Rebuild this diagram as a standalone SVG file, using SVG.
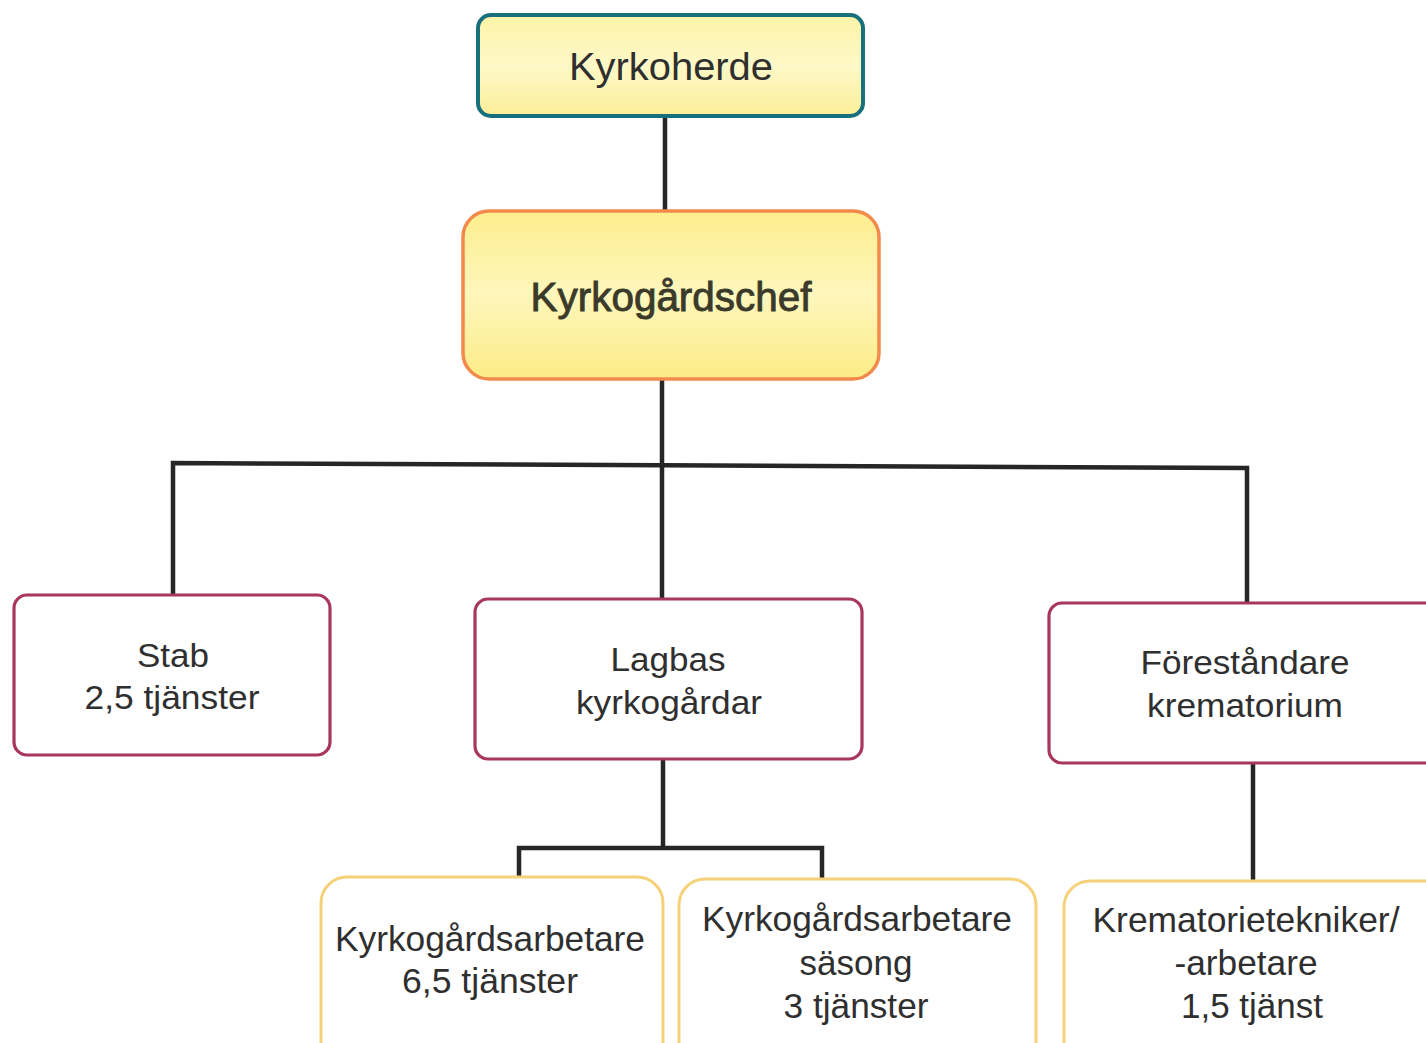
<svg xmlns="http://www.w3.org/2000/svg" width="1426" height="1043" viewBox="0 0 1426 1043">
<defs>
<linearGradient id="gy" x1="0" y1="0" x2="0" y2="1">
<stop offset="0" stop-color="#fdf3a6"/>
<stop offset="0.5" stop-color="#fef8c8"/>
<stop offset="1" stop-color="#fcef98"/>
</linearGradient>
<linearGradient id="gy2" x1="0" y1="0" x2="0" y2="1">
<stop offset="0" stop-color="#fdee8e"/>
<stop offset="0.5" stop-color="#fef6bc"/>
<stop offset="1" stop-color="#fcec86"/>
</linearGradient>
</defs>
<style>
text{font-family:"Liberation Sans",Arial,sans-serif;fill:#2f2f2f;text-anchor:middle}
.mid{stroke:#a8365e;stroke-width:3.2;fill:#fff}
.low{stroke:#f5d27a;stroke-width:3;fill:#fff}
.con{stroke:#262626;stroke-width:4.5;fill:none}
</style>
<g id="connectors">
<path class="con" d="M665 117V210"/>
<path class="con" d="M662 380V598"/>
<path class="con" d="M173 594V463L1247 468V602"/>
<path class="con" d="M663 760V848"/>
<path class="con" d="M519 876V848H822V878"/>
<path class="con" d="M1253 764V880"/>
</g>
<g id="kyrkoherde">
<rect x="478" y="15" width="385" height="101" rx="13" fill="url(#gy)" stroke="#17707c" stroke-width="4"/>
<text x="671" y="80" font-size="38" textLength="204" lengthAdjust="spacingAndGlyphs">Kyrkoherde</text>
</g>
<g id="kyrkogardschef">
<rect x="463" y="211" width="416" height="168" rx="26" fill="url(#gy2)" stroke="#f28a4c" stroke-width="3.5"/>
<text x="671" y="311" font-size="41" textLength="281" lengthAdjust="spacingAndGlyphs" style="fill:#3a3a2a;stroke:#3a3a2a;stroke-width:0.9">Kyrkogårdschef</text>
</g>
<g id="stab">
<rect class="mid" x="14" y="595" width="316" height="160" rx="13"/>
<text x="173" y="667" font-size="34" textLength="72" lengthAdjust="spacingAndGlyphs">Stab</text>
<text x="172" y="709" font-size="34" textLength="175" lengthAdjust="spacingAndGlyphs">2,5 tjänster</text>
</g>
<g id="lagbas">
<rect class="mid" x="475" y="599" width="387" height="160" rx="13"/>
<text x="668" y="671" font-size="34" textLength="115" lengthAdjust="spacingAndGlyphs">Lagbas</text>
<text x="669" y="714" font-size="34" textLength="186" lengthAdjust="spacingAndGlyphs">kyrkogårdar</text>
</g>
<g id="forestandare">
<rect class="mid" x="1049" y="603" width="400" height="160" rx="13"/>
<text x="1245" y="674" font-size="34" textLength="209" lengthAdjust="spacingAndGlyphs">Föreståndare</text>
<text x="1245" y="717" font-size="34" textLength="196" lengthAdjust="spacingAndGlyphs">krematorium</text>
</g>
<g id="arbetare">
<rect class="low" x="321" y="877" width="342" height="190" rx="26"/>
<text x="490" y="951" font-size="35" textLength="310" lengthAdjust="spacingAndGlyphs">Kyrkogårdsarbetare</text>
<text x="490" y="993" font-size="35" textLength="176" lengthAdjust="spacingAndGlyphs">6,5 tjänster</text>
</g>
<g id="sasong">
<rect class="low" x="679" y="879" width="357" height="190" rx="26"/>
<text x="857" y="931" font-size="35" textLength="310" lengthAdjust="spacingAndGlyphs">Kyrkogårdsarbetare</text>
<text x="856" y="975" font-size="35" textLength="113" lengthAdjust="spacingAndGlyphs">säsong</text>
<text x="856" y="1018" font-size="35" textLength="145" lengthAdjust="spacingAndGlyphs">3 tjänster</text>
</g>
<g id="krematorie">
<rect class="low" x="1064" y="881" width="390" height="190" rx="26"/>
<text x="1246" y="932" font-size="35" textLength="307" lengthAdjust="spacingAndGlyphs">Krematorietekniker/</text>
<text x="1246" y="975" font-size="35" textLength="143" lengthAdjust="spacingAndGlyphs">-arbetare</text>
<text x="1252" y="1018" font-size="35" textLength="142" lengthAdjust="spacingAndGlyphs">1,5 tjänst</text>
</g>
</svg>
